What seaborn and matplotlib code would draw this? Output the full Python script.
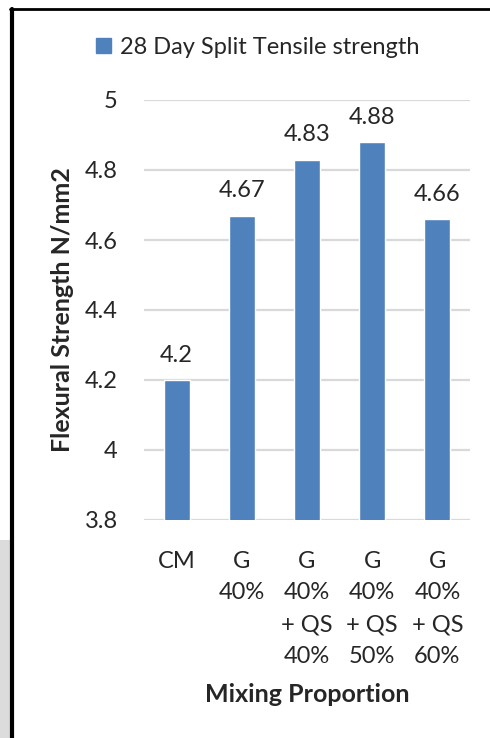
import matplotlib
matplotlib.use("Agg")
import matplotlib.pyplot as plt
import seaborn as sns
import pandas as pd
from matplotlib.lines import Line2D
from matplotlib.patches import Patch, Rectangle

categories = ["CM", "G\n40%", "G\n40%\n+ QS\n40%", "G\n40%\n+ QS\n50%", "G\n40%\n+ QS\n60%"]
values = [4.2, 4.67, 4.83, 4.88, 4.66]
value_labels = ["4.2", "4.67", "4.83", "4.88", "4.66"]
yticks = [3.8, 4.0, 4.2, 4.4, 4.6, 4.8, 5.0]
ytick_labels = ["3.8", "4", "4.2", "4.4", "4.6", "4.8", "5"]
series_name = "28 Day Split Tensile strength"
x_title = "Mixing Proportion"
y_title = "Flexural Strength N/mm2"

sns.set_style("white")
plt.rcParams["font.family"] = ["Lato", "DejaVu Sans"]
FS = 17
FS_T = 18

W, H = 490, 738
fig = plt.figure(figsize=(W / 100, H / 100), dpi=100)
ax = fig.add_axes([144 / W, 1 - 520 / H, (470 - 144) / W, (520 - 100) / H])

df = pd.DataFrame({"cat": categories, "val": values})
color = "#4F81BD"
sns.barplot(data=df, x="cat", y="val", color=color, width=0.4, ax=ax,
            saturation=1, zorder=3)

ax.set_ylim(3.8, 5.0)
ax.set_yticks(yticks)
ax.set_yticklabels(ytick_labels, fontsize=FS)
ax.tick_params(axis="y", length=0, pad=19)
ax.tick_params(axis="x", length=0, pad=22, labelsize=FS)
for lbl in ax.get_xticklabels():
    lbl.set_linespacing(1.64)
ax.yaxis.grid(True, color="#D9D9D9", linewidth=1.6, zorder=0)
ax.set_axisbelow(True)
for s in ax.spines.values():
    s.set_visible(False)

for i, (v, t) in enumerate(zip(values, value_labels)):
    ax.annotate(t, (i, v), xytext=(0, 13), textcoords="offset points",
                ha="center", va="baseline", fontsize=FS)

ax.set_xlabel(x_title, fontsize=FS_T, fontweight="bold")
ax.xaxis.set_label_coords(0.5, -(695 - 520) / 420, transform=ax.transAxes)
ax.xaxis.label.set_va("center")
ax.set_ylabel("")
fig.text(63 / W, 1 - 310 / H, y_title, rotation=90, ha="center", va="center",
         fontsize=FS_T, fontweight="bold")

handles = [Patch(facecolor=color, edgecolor=color)]
fig.legend(handles, [series_name], loc="center", bbox_to_anchor=(258 / W, 1 - 47 / H),
           frameon=False, fontsize=FS, handlelength=0.62, handleheight=0.62,
           handletextpad=0.4)

# background sliver and border of the original figure
fig.add_artist(Rectangle((0, 0), 10 / W, (H - 540) / H, transform=fig.transFigure,
                         facecolor="#DCDCDC", edgecolor="none"))
fig.add_artist(Line2D([11.5 / W, 11.5 / W], [0, 1 - 9 / H], color="black",
                      linewidth=3, transform=fig.transFigure))
fig.add_artist(Line2D([10 / W, 1], [1 - 9 / H, 1 - 9 / H], color="black",
                      linewidth=2, transform=fig.transFigure))

fig.savefig("out.png", dpi=100)
